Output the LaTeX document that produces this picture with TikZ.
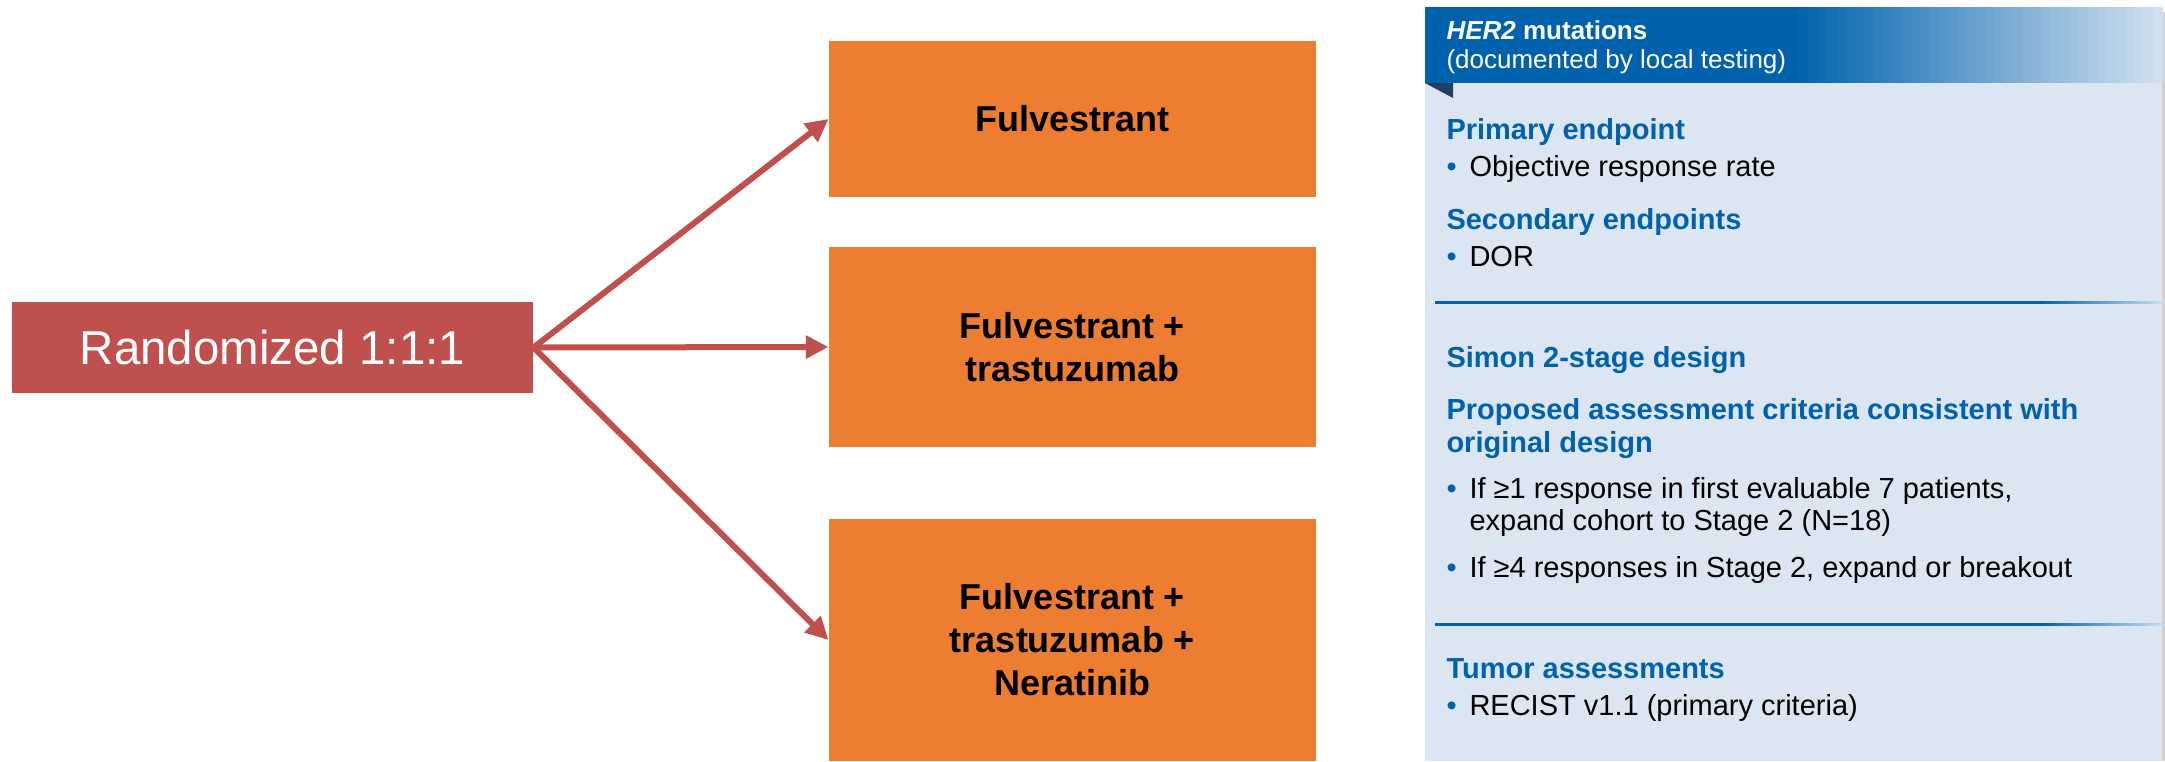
\documentclass[tikz,border=0pt]{standalone}
\usepackage{fontspec}
\setmainfont{Liberation Sans}
\usetikzlibrary{arrows.meta}
\definecolor{rndred}{RGB}{192,80,77}
\definecolor{armorange}{RGB}{237,125,49}
\definecolor{hblue}{RGB}{0,98,172}
\definecolor{panelbg}{RGB}{220,230,242}
\definecolor{hfade}{RGB}{212,226,241}
\definecolor{foldnavy}{RGB}{36,62,99}
\tikzset{every picture/.style={line width=0.75pt}}
\tikzset{
  randbox/.style={fill=rndred, inner sep=0pt, text=white, font=\fontsize{35.6}{40}\selectfont},
  armbox/.style={fill=armorange, inner sep=0pt, minimum width=365.25pt, align=center, font=\fontsize{27}{32.25}\selectfont\bfseries},
  randarrow/.style={draw=rndred, line width=4.5pt, -{Triangle[length=17pt,width=16.5pt]}},
  headtxt/.style={anchor=base west, inner sep=0pt, text=white, font=\fontsize{19.5}{22}\selectfont},
  sechead/.style={anchor=base west, inner sep=0pt, text=hblue, font=\fontsize{21.75}{24}\selectfont\bfseries},
  bodytxt/.style={anchor=base west, inner sep=0pt, font=\fontsize{21.75}{24}\selectfont},
  bulletmark/.style={anchor=base west, inner sep=0pt, text=hblue, font=\fontsize{21.75}{24}\selectfont},
}

\begin{document}
\begin{tikzpicture}[x=0.75pt,y=0.75pt,yscale=-1,xscale=1]
\path[use as bounding box] (0,0) rectangle (2165,761);

%Shape: Rectangle (randomization)
\node[randbox, minimum width=390.75pt, minimum height=68.25pt] (rand) at (272.5,347.5) {Randomized 1:1:1};

%Shape: Rectangle (arms)
\node[armbox, minimum height=117pt] (arm1) at (1072.5,119) {Fulvestrant};
\node[armbox, minimum height=150pt] (arm2) at (1072.5,347) {Fulvestrant +\\trastuzumab};
\node[armbox, minimum height=181.5pt] (arm3) at (1072.5,640) {Fulvestrant +\\trastuzumab +\\Neratinib};

%Straight Lines
\draw[randarrow] (rand.east) -- (arm1.west);
\draw[randarrow] (rand.east) -- (arm2.west);
\draw[randarrow] (rand.east) -- (arm3.west);

%Shape: Panel
\fill[panelbg] (1425,7) rectangle (2162,761);
\fill[black!18] (2162,12) rectangle (2165,761);
\fill[hblue] (1425,7) rectangle (1790,83);
\foreach \i in {0,...,39}
  \pgfmathsetmacro{\pct}{100-2.5*\i}
  \fill[hblue!\pct!hfade] (1790+9.3*\i,7) rectangle (1800+9.3*\i,83);
\fill[foldnavy] (1425,83) -- (1453,83) -- (1453,98) -- cycle;

%Straight Lines (dividers)
\foreach \y in {301,623}{
  \fill[hblue] (1435,\y) rectangle (2040,\y+3);
  \foreach \i in {0,...,24}
    \pgfmathsetmacro{\pct}{100-4*\i}
    \fill[hblue!\pct!hfade] (2040+5*\i,\y) rectangle (2046+5*\i,\y+3);
}

% Text Node
\node[headtxt] (her2) at (1446,39) {\bfseries{\itshape HER2} mutations};
\node[headtxt] (doc) at (1446,68) {(documented by local testing)};

% Text Node
\node[sechead] (prim) at (1446,139) {Primary endpoint};
\node[bulletmark] (b1) at (1446,176) {•};
\node[bodytxt] (orr) at (1469,176) {Objective response rate};
\node[sechead] (sec) at (1446,229) {Secondary endpoints};
\node[bulletmark] (b2) at (1446,266) {•};
\node[bodytxt] (dor) at (1469,266) {DOR};

% Text Node
\node[sechead] (simon) at (1446,367) {Simon 2-stage design};
\node[sechead] (crit) at (1446,419) {Proposed assessment criteria consistent with};
\node[sechead] (crit2) at (1446,452) {original design};
\node[bulletmark] (b3) at (1446,498) {•};
\node[bodytxt] (stage1) at (1469,498) {If ≥1 response in first evaluable 7 patients,};
\node[bodytxt] (stage1b) at (1469,530) {expand cohort to Stage 2 (N=18)};
\node[bulletmark] (b4) at (1446,577) {•};
\node[bodytxt] (stage2) at (1469,577) {If ≥4 responses in Stage 2, expand or breakout};

% Text Node
\node[sechead] (tumor) at (1446,678) {Tumor assessments};
\node[bulletmark] (b5) at (1446,715) {•};
\node[bodytxt] (recist) at (1469,715) {RECIST v1.1 (primary criteria)};

\end{tikzpicture}
\end{document}
